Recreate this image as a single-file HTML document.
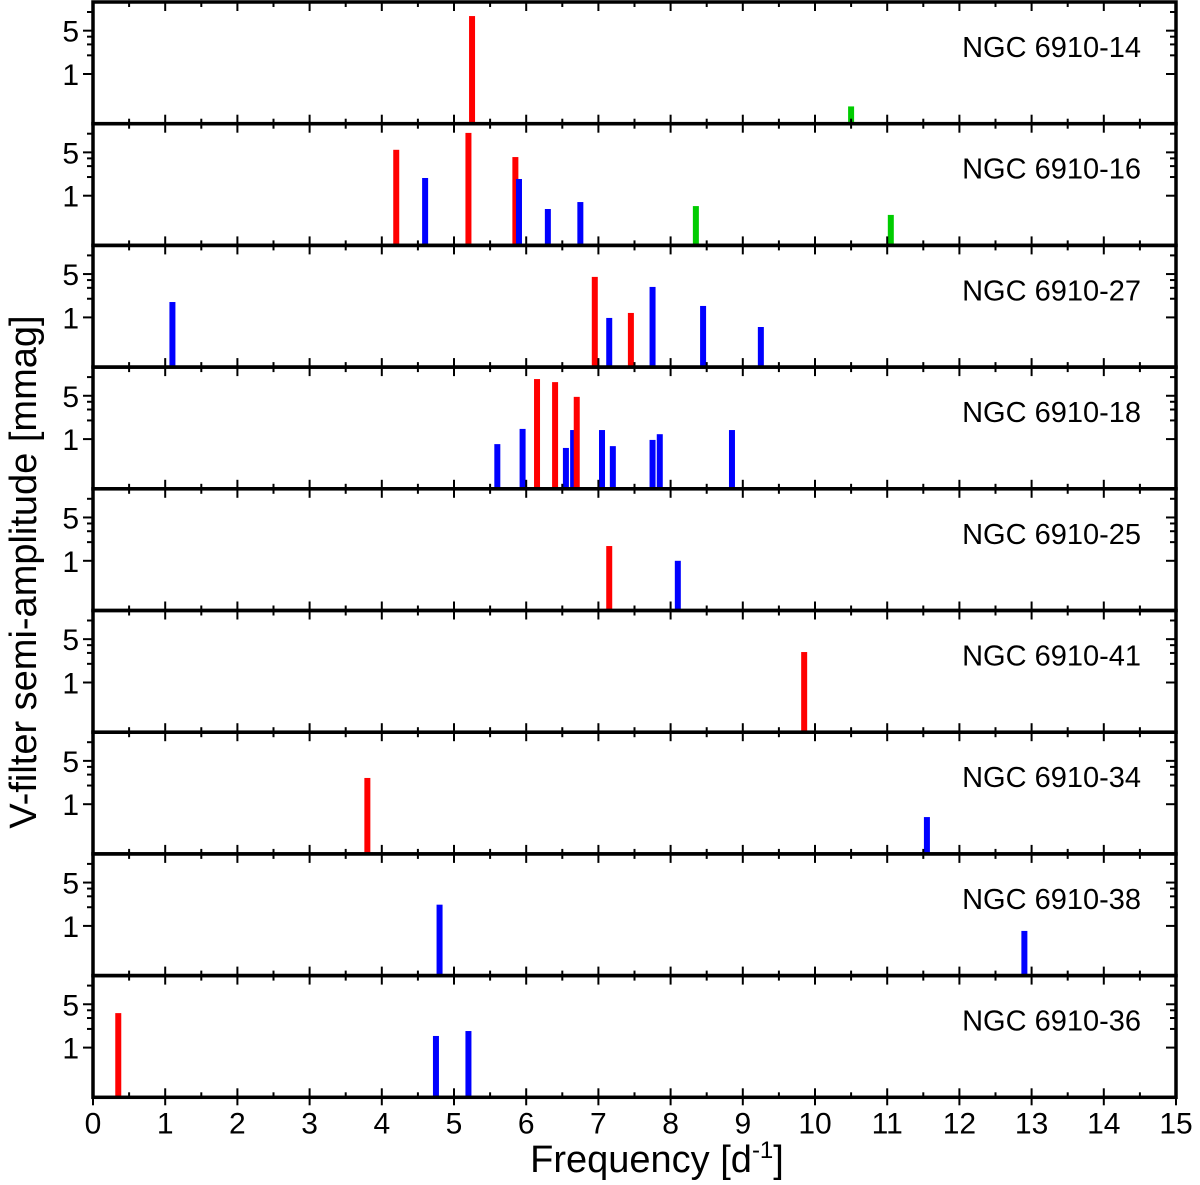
<!DOCTYPE html>
<html><head><meta charset="utf-8"><style>
body{margin:0;background:#fff}
svg{display:block;font-family:"Liberation Sans",sans-serif}
</style></head><body>
<svg id="chart" width="1200" height="1185" viewBox="0 0 1200 1185" xmlns="http://www.w3.org/2000/svg">
<g id="plot"></g>
<text x="0" y="0" transform="translate(36,572) rotate(-90)" font-size="38" text-anchor="middle">V-filter semi-amplitude [mmag]</text>
<text x="657" y="1172" font-size="38" text-anchor="middle">Frequency [d<tspan dy="-14" font-size="24">-1</tspan><tspan dy="14">]</tspan></text>
</svg>
<script>
const starNames = ["NGC 6910-14","NGC 6910-16","NGC 6910-27","NGC 6910-18","NGC 6910-25","NGC 6910-41","NGC 6910-34","NGC 6910-38","NGC 6910-36"];
const freqs = [
 [5.25,10.5],
 [4.2,4.6,5.2,5.85,5.9,6.3,6.75,8.35,11.05],
 [1.1,6.95,7.15,7.45,7.75,8.45,9.25],
 [5.6,5.95,6.15,6.4,6.55,6.65,6.7,7.05,7.2,7.75,7.85,8.85],
 [7.15,8.1],
 [9.85],
 [3.8,11.55],
 [4.8,12.9],
 [0.35,4.75,5.2]
];
const amps = [
 [8.6,0.30],
 [5.5,1.93,10.3,4.2,1.86,0.61,0.79,0.68,0.49],
 [1.77,4.5,0.98,1.18,3.1,1.53,0.70],
 [0.83,1.46,9.3,8.3,0.72,1.4,4.8,1.4,0.77,0.97,1.2,1.4],
 [1.73,1.0],
 [3.1],
 [2.65,0.62],
 [2.2,0.83],
 [3.6,1.54,1.85]
];
const kinds = [
 ["r","g"],
 ["r","b","r","r","b","b","b","g","g"],
 ["b","r","b","r","b","b","b"],
 ["b","b","r","r","b","b","r","b","b","b","b","b"],
 ["r","b"],
 ["r"],
 ["r","b"],
 ["b","b"],
 ["r","b","b"]
];
const xTicks = [0,1,2,3,4,5,6,7,8,9,10,11,12,13,14,15];
const yTickLabels = [1,5];
const yMinorTicks = [2,3,4,10];

const NS="http://www.w3.org/2000/svg";
const g=document.getElementById('plot');
const X0=93,X1=1176,F0=0,F1=15;
const TOP=2,PH=121.7,DEC=62,ONE=72;
const colors={r:"#ff0000",b:"#0000ff",g:"#00cc00"};
function xs(f){return X0+(f-F0)/(F1-F0)*(X1-X0);}
function ys(i,v){return TOP+i*PH+ONE-Math.log10(v)*DEC;}
function mk(t,a){const e=document.createElementNS(NS,t);for(const k in a)e.setAttribute(k,a[k]);g.appendChild(e);return e;}
const n=starNames.length;
for(let i=0;i<n;i++){
  const T=TOP+i*PH,B=T+PH;
  for(let j=0;j<freqs[i].length;j++){
    const x=xs(freqs[i][j]),y=ys(i,amps[i][j]);
    const b=mk('rect',{x:x-3,y:y,width:6,height:B-y,fill:colors[kinds[i][j]]});
    
    
  }
  for(let k=0;k<=30;k++){
    const f=k/2,x=xs(f),L=(k%2===0)?9:5;
    mk('line',{x1:x,y1:T,x2:x,y2:T+L,stroke:'#000','stroke-width':2});
    mk('line',{x1:x,y1:B,x2:x,y2:B-L,stroke:'#000','stroke-width':2});
  }
  yTickLabels.forEach(v=>{
    const y=ys(i,v);
    mk('line',{x1:X0-10,y1:y,x2:X0,y2:y,stroke:'#000','stroke-width':2});
    mk('line',{x1:X1,y1:y,x2:X1-10,y2:y,stroke:'#000','stroke-width':2});
    const t=mk('text',{x:X0-14,y:y+11,'font-size':30,'text-anchor':'end'});
    t.textContent=v;
    
    
  });
  yMinorTicks.forEach(v=>{
    const y=ys(i,v);
    mk('line',{x1:X0-6,y1:y,x2:X0,y2:y,stroke:'#000','stroke-width':2});
    mk('line',{x1:X1,y1:y,x2:X1-6,y2:y,stroke:'#000','stroke-width':2});
  });
  const lab=mk('text',{x:1141,y:T+55,'font-size':29,'text-anchor':'end'});
  lab.textContent=starNames[i];
  
  
  const fr=mk('rect',{x:X0,y:T,width:X1-X0,height:PH,fill:'none',stroke:'#000','stroke-width':3.5});
  
  
}
const B=TOP+n*PH;
xTicks.forEach(f=>{
  const x=xs(f);
  mk('line',{x1:x,y1:B,x2:x,y2:B+8,stroke:'#000','stroke-width':2});
  const t=mk('text',{x:x,y:B+36,'font-size':30,'text-anchor':'middle'});
  t.textContent=f;
  
  
});
</script>
</body></html>
